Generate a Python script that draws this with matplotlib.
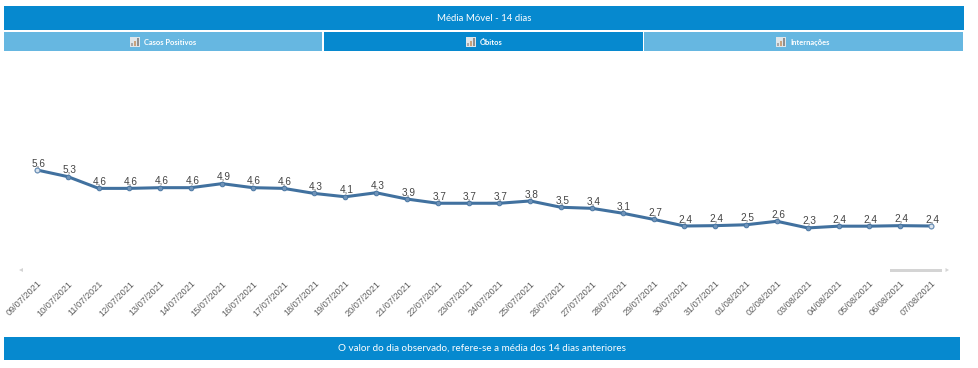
import matplotlib
matplotlib.use('Agg')
import matplotlib.pyplot as plt
from matplotlib.patches import Rectangle, Polygon

W, H = 979, 368

# data
dates = ['09/07/2021', '10/07/2021', '11/07/2021', '12/07/2021', '13/07/2021', '14/07/2021',
         '15/07/2021', '16/07/2021', '17/07/2021', '18/07/2021', '19/07/2021', '20/07/2021',
         '21/07/2021', '22/07/2021', '23/07/2021', '24/07/2021', '25/07/2021', '26/07/2021',
         '27/07/2021', '28/07/2021', '29/07/2021', '30/07/2021', '31/07/2021', '01/08/2021',
         '02/08/2021', '03/08/2021', '04/08/2021', '05/08/2021', '06/08/2021', '07/08/2021']
obitos = [5.6, 5.22, 4.55, 4.55, 4.59, 4.59, 4.82, 4.59, 4.55, 4.26, 4.07, 4.3, 3.94, 3.7, 3.7,
          3.7, 3.83, 3.47, 3.41, 3.13, 2.78, 2.4, 2.42, 2.47, 2.67, 2.29, 2.39, 2.39, 2.42, 2.4]
labels = ['5,6', '5,3', '4,6', '4,6', '4,6', '4,6', '4,9', '4,6', '4,6', '4,3', '4,1', '4,3',
          '3,9', '3,7', '3,7', '3,7', '3,8', '3,5', '3,4', '3,1', '2,7', '2,4', '2,4', '2,5',
          '2,6', '2,3', '2,4', '2,4', '2,4', '2,4']
tabs = ['Casos Positivos', 'Óbitos', 'Internações']

BLUE = '#0689cf'
LIGHT = '#66b7e1'

fig = plt.figure(figsize=(W / 100, H / 100), dpi=100)


def box(x0, y0, x1, y1, color, zorder=1):
    # pixel box, y measured from the top like in the screenshot
    fig.add_artist(Rectangle((x0 / W, 1 - y1 / H), (x1 - x0) / W, (y1 - y0) / H,
                             transform=fig.transFigure, facecolor=color, edgecolor='none', zorder=zorder))


def icon(x, y):
    box(x, y, x + 10, y + 10, '#dfe6ea', 3)
    for dx, top, c in [(1, 6, '#a8a8a8'), (4, 4, '#c9a27c'), (7, 1, '#8f8f8f')]:
        box(x + dx, y + top, x + dx + 2, y + 9, c, 4)


box(4, 6, 964, 30, BLUE)
fig.text(484 / W, 1 - 18.5 / H, 'Média Móvel - 14 dias', color='white', fontsize=6.9,
         family='Lato', ha='center', va='center')

tab_edges = [(4, 322.5), (324, 642.5), (644, 963)]
tab_colors = [LIGHT, BLUE, LIGHT]
icon_x = [130, 466, 776]
for t, (a, b), c, ix in zip(tabs, tab_edges, tab_colors, icon_x):
    box(a, 32, b, 51, c)
    icon(ix, 37)
    fig.text((ix + 14) / W, 1 - 42.5 / H, t, color='white', fontsize=5.4, family='Lato',
             ha='left', va='center', fontweight='bold')

box(4, 337, 960, 360, BLUE)
fig.text(482.5 / W, 1 - 348 / H, 'O valor do dia observado, refere-se a média dos 14 dias anteriores',
         color='white', fontsize=7.15, family='Lato', ha='center', va='center')

# chart area, x index 0 sits on px 37 and 29 on px 931
ax = fig.add_axes([37 / W, 1 - 268 / H, (931 - 37) / W, 140 / H])
ax.set_xlim(0, len(dates) - 1)
ax.set_ylim(0, 8)
ax.patch.set_visible(False)
for s in ax.spines.values():
    s.set_visible(False)
ax.tick_params(left=False, bottom=False, labelleft=False)

x = list(range(len(dates)))
ax.plot(x, obitos, color='#41719f', lw=2.2, zorder=2, clip_on=False, solid_joinstyle='round')
ax.plot(x, obitos, ls='none', marker='o', ms=3.4, mfc='#6f93b8', mec='#41719f', mew=0.6, zorder=3, clip_on=False)
ax.plot([0, x[-1]], [obitos[0], obitos[-1]], ls='none', marker='o', ms=3.4, mfc='#dbe4ee', mec='#6f93b8',
        mew=0.8, zorder=4, clip_on=False)

for i, lab in enumerate(labels):
    ax.annotate(lab, (i, obitos[i]), xytext=(1, 1.4), textcoords='offset points', ha='center', va='bottom',
                fontsize=7.2, family='Liberation Sans', color='#444444')

ax.set_xticks(x)
ax.set_xticklabels(dates, rotation=45, ha='right', rotation_mode='anchor', fontsize=6.6,
                   family='Liberation Sans', color='#606060')
ax.tick_params(axis='x', pad=4.5)

# scroller
box(890, 268.5, 942, 272, '#d4d4d4', 2)
fig.add_artist(Polygon([[19 / W, 1 - 270 / H], [23 / W, 1 - 268 / H], [23 / W, 1 - 272 / H]],
                       transform=fig.transFigure, facecolor='#d4d4d4', edgecolor='none'))
fig.add_artist(Polygon([[949 / W, 1 - 270 / H], [945.5 / W, 1 - 268 / H], [945.5 / W, 1 - 272 / H]],
                       transform=fig.transFigure, facecolor='#d4d4d4', edgecolor='none'))

fig.savefig('out.png', dpi=100)
